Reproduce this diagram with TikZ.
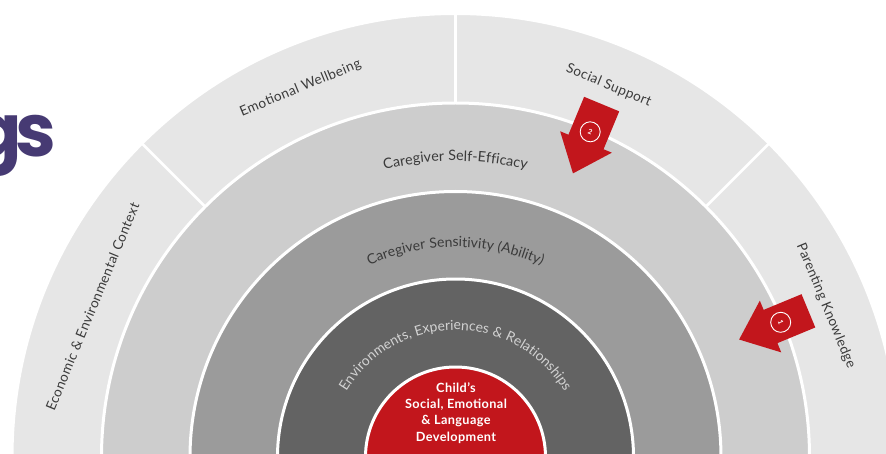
\documentclass[tikz,border=0pt]{standalone}
\usepackage{fontspec}
\setmainfont{Lato}[LetterSpace=3]
\newfontfamily\popfont{Poppins}
\usetikzlibrary{decorations.text}
\definecolor{ringA}{HTML}{E6E6E6}
\definecolor{ringB}{HTML}{CDCDCD}
\definecolor{ringC}{HTML}{9B9B9B}
\definecolor{ringD}{HTML}{636363}
\definecolor{coreRed}{HTML}{C2161C}
\definecolor{txtDark}{HTML}{3A3A3A}
\definecolor{txtLight}{HTML}{D2D2D2}
\definecolor{titlePurple}{RGB}{70,58,115}
\tikzset{
  ring/.style={draw=white, line width=3pt},
  seg/.style={draw=white, line width=2.5pt},
  outerlabel/.style={text=txtDark, font=\fontsize{13.6}{15}\selectfont, inner sep=0pt},
  redarrow/.style={fill=coreRed},
  numcircle/.style={circle, draw=white, line width=0.9pt, minimum size=20pt, inner sep=0pt,
    text=white, font=\fontsize{7}{8}\selectfont\bfseries},
}
\begin{document}
\begin{tikzpicture}[x=1pt,y=1pt]
\useasboundingbox (0,0) rectangle (886,453);
\clip (0,0) rectangle (886,453);
\coordinate (C) at (455.5,-4);

% title fragment
\node[anchor=base east, inner sep=0pt, text=titlePurple, font=\popfont\bfseries\fontsize{73}{80}\selectfont] (title) at (56,296) {g\kern-7pt s};

% rings
\path[ring, fill=ringA] (C) circle[radius=443.5];
\draw[seg] ([shift={(45:350)}]C) -- ([shift={(45:446)}]C);
\draw[seg] ([shift={(90:350)}]C) -- ([shift={(90:446)}]C);
\draw[seg] ([shift={(135:350)}]C) -- ([shift={(135:446)}]C);
\path[ring, fill=ringB] (C) circle[radius=354];
\path[ring, fill=ringC] (C) circle[radius=265.5];
\path[ring, fill=ringD] (C) circle[radius=178];
\path[ring, fill=coreRed] (C) circle[radius=90];

% outer labels
\node[outerlabel, rotate=67.5] (econ) at ([shift={(157.5:393)}]C) {Economic \& Environmental Context};
\node[outerlabel, rotate=22.5] (emo) at ([shift={(112.8:400)}]C) {Emotional Wellbeing};
\node[outerlabel, rotate=-22.5] (soc) at ([shift={(67.6:402)}]C) {Social Support};
\node[outerlabel, rotate=-67.5] (par) at ([shift={(22.2:400)}]C) {Parenting Knowledge};

% curved labels
\path[decorate, decoration={text along path, text align=center,
  text={|\fontsize{14.3}{16}\selectfont\color{txtDark}|Caregiver Self-Efficacy}}]
  ([shift={(170:296)}]C) arc[start angle=170, end angle=10, radius=296];
\path[decorate, decoration={text along path, text align=center,
  text={|\fontsize{14}{16}\selectfont\color{txtDark}|Caregiver Sensitivity (Ability)}}]
  ([shift={(170:210)}]C) arc[start angle=170, end angle=10, radius=210];
\path[decorate, decoration={text along path, text align=center,
  text={|\fontsize{13.8}{16}\selectfont\color{txtLight}|Environments, Experiences {\&} Relationships}}]
  ([shift={(175:127)}]C) arc[start angle=175, end angle=5, radius=127];

% core text
\node[text=white, align=center, font=\fontsize{12.7}{16.3}\selectfont\bfseries, inner sep=0pt] (core) at (456,40)
  {Child’s\\Social, Emotional\\\& Language\\Development};

% arrows
\begin{scope}[shift={(C)}, rotate=67.5]
  \fill[redarrow] (382,19) -- (341,19) -- (341,28) -- (307,0) -- (341,-28) -- (341,-19) -- (382,-19) -- cycle;
  \node[numcircle, rotate=-22.5] (n2) at (352,0) {2};
\end{scope}
\begin{scope}[shift={(C)}, rotate=22.5]
  \fill[redarrow] (382,18) -- (341,18) -- (341,28) -- (307,0) -- (341,-28) -- (341,-18) -- (382,-18) -- cycle;
  \node[numcircle, rotate=-67.5] (n1) at (352,0) {1};
\end{scope}
\end{tikzpicture}
\end{document}
